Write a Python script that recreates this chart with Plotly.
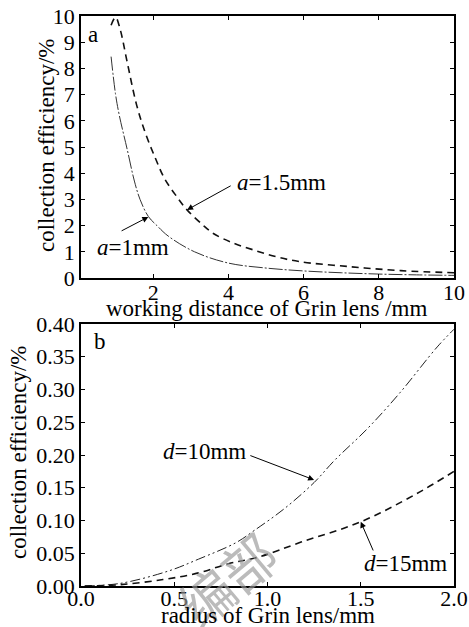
import plotly.graph_objects as go

W, H = 469, 627

# ---- data ----
wd_a1 = [0.88, 1.0, 1.1, 1.31, 1.5, 1.65, 1.87, 2.1, 2.4, 3.1, 4.0, 5.0, 6.0, 7.0, 8.0, 9.0, 10.0]
eff_a1 = [8.45, 7.0, 6.2, 4.9, 3.7, 3.0, 2.35, 2.0, 1.6, 1.0, 0.57, 0.38, 0.27, 0.2, 0.15, 0.12, 0.1]

wd_a15 = [0.88, 1.0, 1.12, 1.3, 1.56, 1.8, 2.05, 2.3, 2.63, 2.9, 3.3, 3.6, 4.1, 4.67, 5.3, 5.92, 7.25, 8.59, 10.0]
eff_a15 = [9.65, 9.95, 9.5, 8.3, 6.6, 5.5, 4.6, 3.8, 3.1, 2.6, 2.05, 1.7, 1.35, 1.07, 0.8, 0.62, 0.43, 0.28, 0.2]

r_d10 = [0.02, 0.21, 0.47, 0.63, 0.83, 0.93, 1.09, 1.25, 1.36, 1.535, 1.71, 1.91, 2.0]
eff_d10 = [0.0, 0.004, 0.023, 0.041, 0.066, 0.085, 0.118, 0.158, 0.192, 0.24, 0.295, 0.365, 0.392]

r_d15 = [0.02, 0.21, 0.44, 0.63, 0.79, 0.95, 1.18, 1.5, 1.8, 2.0]
eff_d15 = [0.0, 0.002, 0.0098, 0.02, 0.034, 0.044, 0.067, 0.098, 0.141, 0.175]

top_xticks = [2, 4, 6, 8, 10]
top_yticks = list(range(0, 11))
bot_xticks = [0.0, 0.5, 1.0, 1.5, 2.0]
bot_yticks = [0.0, 0.05, 0.10, 0.15, 0.20, 0.25, 0.30, 0.35, 0.40]

FONT = "'Liberation Serif', 'Times New Roman', serif"
FS_TICK = 22
FS = 23

def px(x):
    return x / W

def py(y):
    return 1 - y / H

fig = go.Figure()

fig.add_trace(go.Scatter(x=wd_a1, y=eff_a1, mode="lines", line=dict(color="#333", width=1, dash="14px,2px,2px,2px", shape="spline"),
                         xaxis="x", yaxis="y", showlegend=False))
fig.add_trace(go.Scatter(x=wd_a15, y=eff_a15, mode="lines", line=dict(color="#111", width=1.6, dash="7px,5px", shape="spline"),
                         xaxis="x", yaxis="y", showlegend=False))
fig.add_trace(go.Scatter(x=r_d10, y=eff_d10, mode="lines", line=dict(color="#222", width=1, dash="10px,3px,2px,3px,2px,3px", shape="spline"),
                         xaxis="x2", yaxis="y2", showlegend=False))
fig.add_trace(go.Scatter(x=r_d15, y=eff_d15, mode="lines", line=dict(color="#111", width=1.6, dash="7px,5px", shape="spline"),
                         xaxis="x2", yaxis="y2", showlegend=False))

axis_common = dict(showline=True, linecolor="black", linewidth=1.6, mirror="ticks", ticks="inside",
                   ticklen=4, tickcolor="black", showgrid=False, zeroline=False, automargin=False,
                   tickfont=dict(family=FONT, size=FS_TICK, color="black"))

fig.update_layout(
    template="none",
    width=W, height=H, margin=dict(l=0, r=0, t=0, b=0, autoexpand=False),
    paper_bgcolor="white", plot_bgcolor="white",
    font=dict(family=FONT),
    xaxis=dict(domain=[px(81), px(454)], range=[0.08, 10], tickvals=top_xticks, anchor="y",
               ticklabelstandoff=-6, **axis_common),
    yaxis=dict(domain=[py(278), py(16)], range=[0, 10], tickvals=top_yticks, anchor="x", **axis_common),
    xaxis2=dict(domain=[px(81), px(454)], range=[0, 2], tickvals=bot_xticks, tickformat=".1f", anchor="y2",
                ticklabelstandoff=-8, **axis_common),
    yaxis2=dict(domain=[py(586), py(324)], range=[0, 0.4], tickvals=bot_yticks, tickformat=".2f", anchor="x2", **axis_common),
)

ann = []
tf = dict(family=FONT, size=FS, color="black")
C = dict(xanchor="center", yanchor="middle", showarrow=False)
# watermark (drawn first, under the other texts)
ann.append(dict(x=px(226), y=py(578), xref="paper", yref="paper", text="编部", textangle=-40,
                font=dict(family="Noto Sans CJK SC", size=54, color="rgba(150,150,150,0.65)"), **C))
# panel letters
ann.append(dict(x=0.4, y=9.3, xref="x", yref="y", text="a", font=tf, **C))
ann.append(dict(x=0.1, y=0.374, xref="x2", yref="y2", text="b", font=tf, **C))
# top labels
ann.append(dict(x=5.41, y=3.66, xref="x", yref="y", text="<i>a</i>=1.5mm", font=tf, **C))
ann.append(dict(x=2.9, y=2.6, ax=4.1, ay=3.55, xref="x", yref="y", axref="x", ayref="y", text="",
                showarrow=True, arrowhead=2, arrowsize=1.2, arrowwidth=1, arrowcolor="black"))
ann.append(dict(x=1.47, y=1.15, xref="x", yref="y", text="<i>a</i>=1mm", font=tf, **C))
ann.append(dict(x=1.87, y=2.33, ax=1.12, ay=1.77, xref="x", yref="y", axref="x", ayref="y", text="",
                showarrow=True, arrowhead=2, arrowsize=1.2, arrowwidth=1, arrowcolor="black"))
# bottom labels
ann.append(dict(x=0.66, y=0.205, xref="x2", yref="y2", text="<i>d</i>=10mm", font=tf, **C))
ann.append(dict(x=1.25, y=0.162, ax=0.9, ay=0.2, xref="x2", yref="y2", axref="x2", ayref="y2", text="",
                showarrow=True, arrowhead=2, arrowsize=1.2, arrowwidth=1, arrowcolor="black"))
ann.append(dict(x=1.74, y=0.035, xref="x2", yref="y2", text="<i>d</i>=15mm", font=tf, **C))
ann.append(dict(x=1.5, y=0.098, ax=1.57, ay=0.052, xref="x2", yref="y2", axref="x2", ayref="y2", text="",
                showarrow=True, arrowhead=2, arrowsize=1.2, arrowwidth=1, arrowcolor="black"))
# axis titles
ann.append(dict(x=px(46), y=py(145), xref="paper", yref="paper", text="collection efficiency/%",
                textangle=-90, font=tf, **C))
ann.append(dict(x=px(19), y=py(452), xref="paper", yref="paper", text="collection efficiency/%",
                textangle=-90, font=tf, **C))
ann.append(dict(x=px(266), y=py(308), xref="paper", yref="paper", text="working distance of Grin lens /mm",
                font=tf, **C))
ann.append(dict(x=px(268), y=py(615), xref="paper", yref="paper", text="radius of Grin lens/mm",
                font=tf, **C))

fig.update_layout(annotations=ann)
fig.write_html("out.html", config={"displayModeBar": False},
               post_script="document.body.style.margin='0';document.body.style.padding='0';document.body.style.overflow='hidden';")
